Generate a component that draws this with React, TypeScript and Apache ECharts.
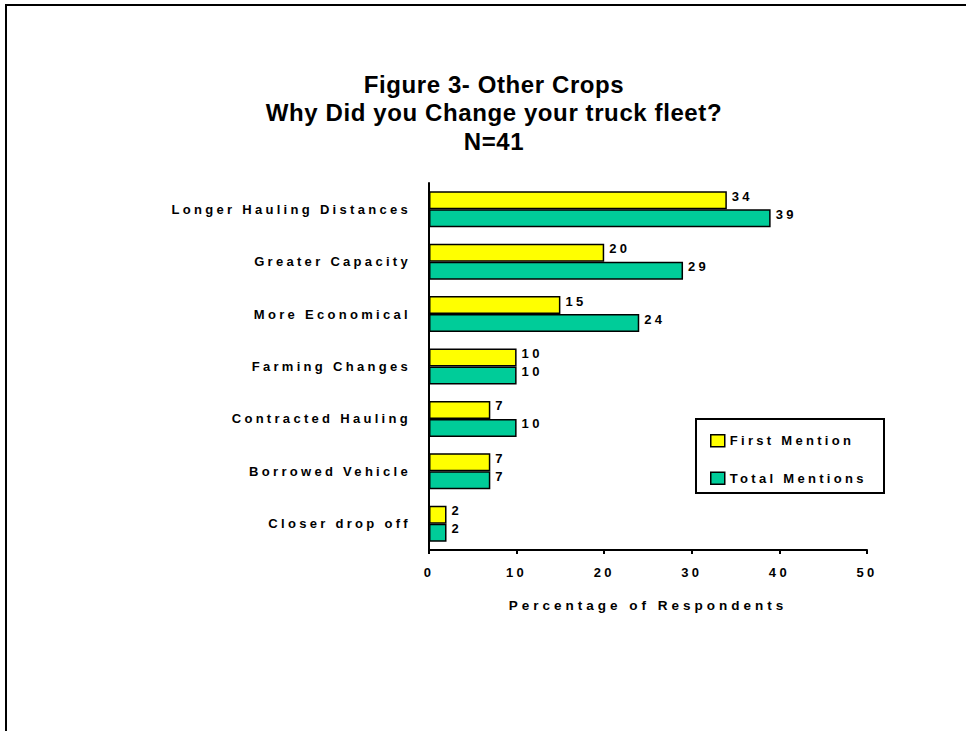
import React, { useEffect, useRef } from "react";
import * as echarts from "echarts";

const categories = [
  "Longer Hauling Distances",
  "Greater Capacity",
  "More Economical",
  "Farming Changes",
  "Contracted Hauling",
  "Borrowed Vehicle",
  "Closer drop off",
];
const firstMention = [34, 20, 15, 10, 7, 7, 2];
const totalMentions = [39, 29, 24, 10, 10, 7, 2];
const titleLines = ["Figure 3- Other Crops", "Why Did you Change your truck fleet?", "N=41"];
const xTicks = { min: 0, max: 50, interval: 10 };

const labelFont = {
  fontFamily: "'Liberation Sans', Arial, sans-serif",
  fontWeight: "bold" as const,
  fontSize: 13,
  color: "#000",
};

export default function App() {
  const ref = useRef<HTMLDivElement>(null);
  useEffect(() => {
    if (!ref.current) return;
    const chart = echarts.init(ref.current, null, { renderer: "svg" });
    const titleY = [84, 112, 141];
    chart.setOption({
      animation: false,
      backgroundColor: "#fff",
      grid: { left: 429, right: 99, top: 183, bottom: 181, containLabel: false },
      xAxis: {
        type: "value",
        min: xTicks.min,
        max: xTicks.max,
        interval: xTicks.interval,
        splitLine: { show: false },
        axisLine: { show: true, lineStyle: { color: "#000", width: 2 } },
        axisTick: { show: true, length: 4, lineStyle: { color: "#000", width: 2 } },
        axisLabel: { ...labelFont, margin: 16 },
        name: "Percentage of Respondents",
        nameLocation: "middle",
        nameGap: 48,
        nameTextStyle: { ...labelFont, fontSize: 13.5 },
      },
      yAxis: {
        type: "category",
        data: categories,
        inverse: true,
        axisLine: { show: true, lineStyle: { color: "#000", width: 2 } },
        axisTick: { show: false },
        axisLabel: { ...labelFont, margin: 18 },
      },
      legend: {
        orient: "vertical",
        left: 710,
        top: 434,
        padding: 0,
        itemWidth: 14,
        itemHeight: 12,
        itemGap: 24,
        icon: "rect",
        itemStyle: { borderColor: "#000", borderWidth: 1.5 },
        textStyle: { ...labelFont },
        data: ["First Mention", "Total Mentions"],
      },
      graphic: [
        {
          type: "polyline",
          shape: { points: [[6, 731], [6, 5], [966, 5]] },
          style: { stroke: "#000", lineWidth: 2, fill: null },
          silent: true,
        },
        {
          type: "rect",
          shape: { x: 696, y: 419, width: 188, height: 74 },
          style: { stroke: "#000", lineWidth: 2, fill: "#fff" },
          z: -1,
          silent: true,
        },
        ...titleLines.map((t, i) => ({
          type: "text",
          x: 494,
          y: titleY[i],
          style: {
            text: t,
            fontFamily: "'Liberation Sans', Arial, sans-serif",
            fontWeight: "bold",
            fontSize: 24,
            fill: "#000",
            textAlign: "center",
            textVerticalAlign: "middle",
          },
          silent: true,
        })),
      ],
      series: [
        {
          name: "First Mention",
          type: "bar",
          data: firstMention,
          barWidth: 18,
          barGap: "0%",
          itemStyle: { color: "#FFFF00", borderColor: "#000", borderWidth: 1.5 },
          label: { show: true, position: "right", distance: 5, offset: [0, -4], ...labelFont },
        },
        {
          name: "Total Mentions",
          type: "bar",
          data: totalMentions,
          barWidth: 18,
          barGap: "0%",
          itemStyle: { color: "#00CC99", borderColor: "#000", borderWidth: 1.5 },
          label: { show: true, position: "right", distance: 5, offset: [0, -4], ...labelFont },
        },
      ],
    });
    return () => chart.dispose();
  }, []);
  return (
    <>
      <style>{`#chart text { letter-spacing: 3.3px; } #chart text[style*="13.5px"] { letter-spacing: 4px; } #chart text[style*="24px"] { letter-spacing: 0.6px; }`}</style>
      <div
        id="chart"
        ref={ref}
        style={{ position: "fixed", left: 0, top: 0, width: 966, height: 731 }}
      />
    </>
  );
}
